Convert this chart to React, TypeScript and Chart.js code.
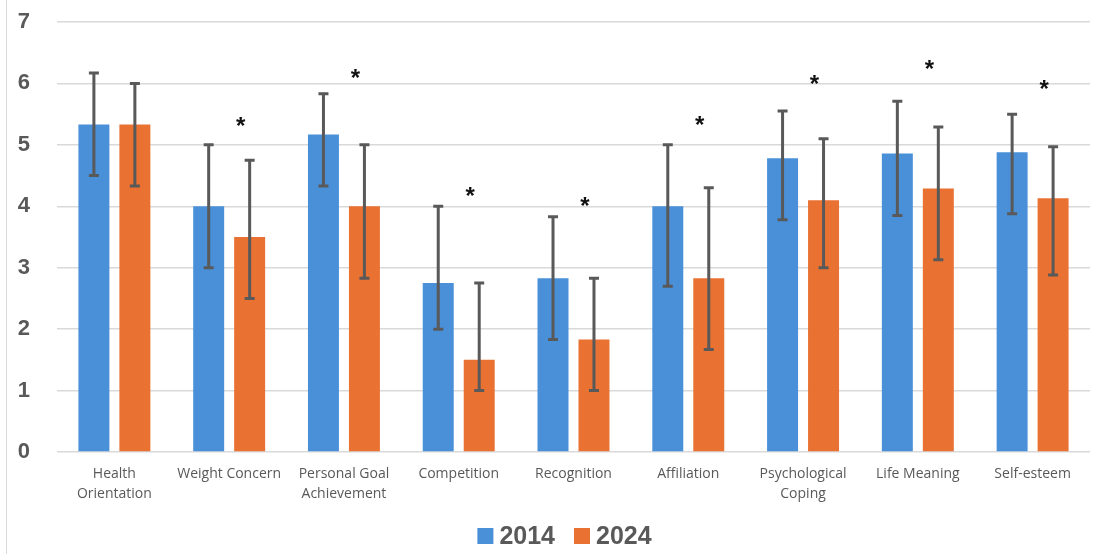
import React, { useEffect, useRef } from "react";
import { Chart, registerables } from "chart.js";
Chart.register(...registerables);

const categories: (string | string[])[] = [
  ["Health", "Orientation"],
  "Weight Concern",
  ["Personal Goal", "Achievement"],
  "Competition",
  "Recognition",
  "Affiliation",
  ["Psychological", "Coping"],
  "Life Meaning",
  "Self-esteem",
];
const seriesNames = ["2014", "2024"];
const means2014 = [5.33, 4.0, 5.17, 2.75, 2.83, 4.0, 4.78, 4.86, 4.88];
const means2024 = [5.33, 3.5, 4.0, 1.5, 1.83, 2.83, 4.1, 4.29, 4.13];
const low2014 = [4.5, 3.0, 4.33, 2.0, 1.83, 2.7, 3.78, 3.85, 3.88];
const high2014 = [6.17, 5.0, 5.83, 4.0, 3.83, 5.0, 5.55, 5.71, 5.5];
const low2024 = [4.33, 2.5, 2.83, 1.0, 1.0, 1.67, 3.0, 3.13, 2.88];
const high2024 = [6.0, 4.75, 5.0, 2.75, 2.83, 4.3, 5.1, 5.29, 4.97];
const starY: (number | null)[] = [null, 5.4, 6.19, 4.27, 4.1, 5.42, 6.09, 6.34, 6.01];
const yMin = 0;
const yMax = 7;

const BLUE = "#4a90d9";
const ORANGE = "#e97132";
const TEXT = "#595959";
const GRID = "#d9d9d9";

export default function App() {
  const ref = useRef<HTMLCanvasElement | null>(null);
  useEffect(() => {
    if (!ref.current) return;
    const lows = [low2014, low2024];
    const highs = [high2014, high2024];
    const colors = [BLUE, ORANGE];
    const errorPlugin = {
      id: "errbars",
      beforeDraw(chart: any) {
        const ctx = chart.ctx;
        ctx.save();
        ctx.strokeStyle = GRID;
        ctx.lineWidth = 1;
        ctx.beginPath();
        ctx.moveTo(6.5, 0);
        ctx.lineTo(6.5, chart.height);
        ctx.stroke();
        ctx.restore();
      },
      afterDatasetsDraw(chart: any) {
        const ctx = chart.ctx;
        const y = chart.scales.y;
        const x = chart.scales.x;
        ctx.save();
        ctx.strokeStyle = "#595959";
        ctx.lineWidth = 3;
        for (let d = 0; d < 2; d++) {
          const meta = chart.getDatasetMeta(d);
          meta.data.forEach((bar: any, i: number) => {
            const bx = bar.x;
            const yl = y.getPixelForValue(lows[d][i]);
            const yh = y.getPixelForValue(highs[d][i]);
            ctx.beginPath();
            ctx.moveTo(bx, yl);
            ctx.lineTo(bx, yh);
            ctx.moveTo(bx - 5, yl);
            ctx.lineTo(bx + 5, yl);
            ctx.moveTo(bx - 5, yh);
            ctx.lineTo(bx + 5, yh);
            ctx.stroke();
          });
        }
        ctx.fillStyle = "#111";
        ctx.font = "bold 24px 'Liberation Sans'";
        ctx.textAlign = "center";
        ctx.textBaseline = "alphabetic";
        const step = x.getPixelForValue(1) - x.getPixelForValue(0);
        starY.forEach((v, i) => {
          if (v === null) return;
          const px = x.getPixelForValue(i) + step * 0.1;
          const py = y.getPixelForValue(v) + 14;
          ctx.fillText("*", px, py);
        });

        // legend
        ctx.font = "bold 25px 'Liberation Sans'";
        ctx.textAlign = "left";
        ctx.textBaseline = "middle";
        const box = 16;
        const gap = 6;
        const between = 19;
        const widths = seriesNames.map((s) => ctx.measureText(s).width);
        const total = widths.reduce((a, w) => a + box + gap + w, 0) + between;
        const area = chart.chartArea;
        let lx = (area.left + area.right) / 2 - 9 - total / 2;
        const ly = 536;
        seriesNames.forEach((s, k) => {
          ctx.fillStyle = colors[k];
          ctx.fillRect(lx, ly - box / 2, box, box);
          ctx.fillStyle = TEXT;
          ctx.fillText(s, lx + box + gap, ly + 1);
          lx += box + gap + widths[k] + between;
        });
        ctx.restore();
      },
    };
    const chart = new Chart(ref.current, {
      type: "bar",
      data: {
        labels: categories,
        datasets: [
          { label: seriesNames[0], data: means2014, backgroundColor: BLUE },
          { label: seriesNames[1], data: means2024, backgroundColor: ORANGE },
        ],
      },
      options: {
        responsive: false,
        animation: false,
        datasets: { bar: { categoryPercentage: 0.714, barPercentage: 0.756 } },
        layout: { padding: { left: 18, right: 11, top: 22, bottom: 36 } },
        plugins: {
          tooltip: { enabled: false },
          legend: { display: false },
        },
        scales: {
          x: {
            grid: { display: false },
            border: { display: false },
            afterFit(scale: any) {
              scale.height = 66;
              scale.paddingLeft = 0;
              scale.paddingRight = 0;
            },
            ticks: {
              color: TEXT,
              padding: 4,
              maxRotation: 0,
              autoSkip: false,
              font: { family: "'Open Sans'", size: 14, lineHeight: 1.43 },
            },
          },
          y: {
            min: yMin,
            max: yMax,
            afterFit(scale: any) {
              scale.width = 39;
              scale.paddingTop = 0;
              scale.paddingBottom = 0;
            },
            grid: { color: GRID, lineWidth: 1.5, drawTicks: false },
            border: { display: false },
            ticks: {
              stepSize: 1,
              color: TEXT,
              padding: 27,
              font: { family: "'Liberation Sans'", size: 22, weight: "bold" },
            },
          },
        },
      },
      plugins: [errorPlugin],
    } as any);
    return () => chart.destroy();
  }, []);
  return (
    <div style={{ position: "absolute", left: 0, top: 0, width: 1101, height: 554, background: "#fff" }}>
      <canvas ref={ref} width={1101} height={554} style={{ display: "block" }} />
    </div>
  );
}
